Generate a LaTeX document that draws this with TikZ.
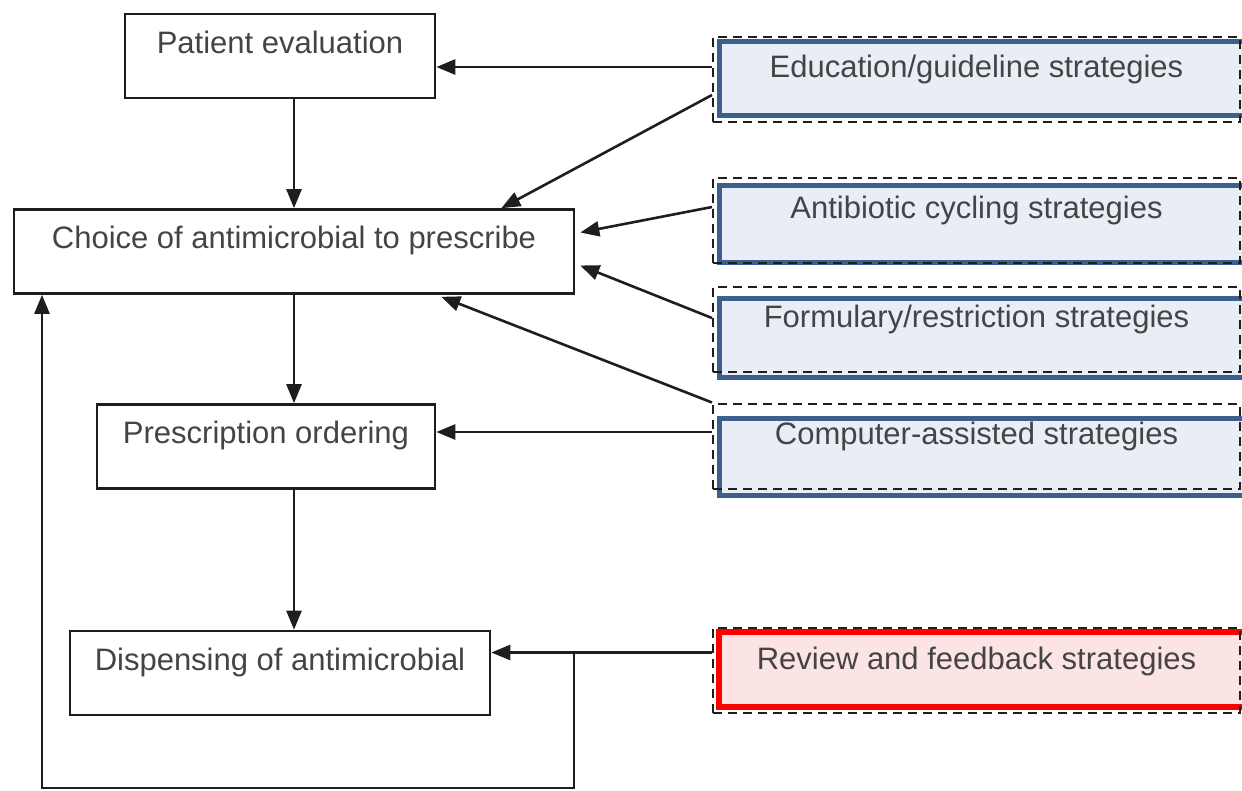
\documentclass[tikz,border=0pt]{standalone}
\usepackage{fontspec}
\setmainfont{Liberation Sans}
\usepackage{tikz}
\usetikzlibrary{arrows.meta}
\usepackage{xcolor}
\definecolor{txtgris}{RGB}{68,68,68}
\definecolor{bordnoir}{RGB}{30,30,30}
\definecolor{bleu}{RGB}{60,95,140}
\definecolor{fondbleu}{RGB}{233,238,246}
\definecolor{fondrose}{RGB}{252,228,228}

\begin{document}
\begin{tikzpicture}[x=1pt,y=-1pt,
    etape/.style={draw=bordnoir,line width=2.6pt,inner sep=0pt,text height=39pt,text depth=45pt,text=txtgris,font=\fontsize{31}{37}\selectfont},
    strat/.style={draw=bordnoir,dash pattern=on 9pt off 6pt,line width=2pt,inner sep=0pt,minimum width=527pt,text height=41pt,text depth=44pt,text=txtgris,font=\fontsize{31}{37}\selectfont},
    fl/.style={-{Triangle[length=19pt,width=15pt]},line width=2.6pt,draw=bordnoir}]
    \clip (0,0) rectangle (1242,790);
    % fonds des stratégies
    \foreach \h/\b in {41/115,185/262,298/377,418/495}
        \draw[bleu,line width=5pt,fill=fondbleu] (719,\h) rectangle (1252,\b);
    \draw[red,line width=6pt,fill=fondrose] (719,632) rectangle (1252,707);
    % étapes
    \node[etape,minimum width=310pt] (pat) at (280,56) {Patient evaluation};
    \node[etape,minimum width=560pt] (choix) at (294,251.5) {Choice of antimicrobial to prescribe};
    \node[etape,minimum width=338pt] (presc) at (266,446.5) {Prescription ordering};
    \node[etape,minimum width=420pt] (disp) at (280,673) {Dispensing of antimicrobial};
    % stratégies
    \node[strat] (edu) at (976.5,79) {Education/guideline strategies};
    \node[strat] (cycl) at (976.5,220) {Antibiotic cycling strategies};
    \node[strat] (form) at (976.5,329) {Formulary/restriction strategies};
    \node[strat] (info) at (976.5,446) {Computer-assisted strategies};
    \node[strat] (revue) at (976.5,670.5) {Review and feedback strategies};
    % flèches
    \draw[fl] (pat.south -| choix.north) -- (choix.north);
    \draw[fl] (choix.south) -- (choix.south |- presc.north);
    \draw[fl] (choix.south |- presc.south) -- (choix.south |- disp.north);
    \draw[fl] ([yshift=12pt]edu.west) -- ([yshift=12pt]edu.west -| pat.east);
    \draw[fl] ([yshift=-16pt]edu.west) -- ([xshift=-74pt]choix.north east);
    \draw[fl] ([yshift=13pt]cycl.west) -- ([xshift=5pt,yshift=19pt]choix.east);
    \draw[fl] ([yshift=11pt]form.west) -- ([xshift=5pt,yshift=-14pt]choix.east);
    \draw[fl] (info.north west) -- ([xshift=-134pt,yshift=-2pt]choix.south east);
    \draw[fl] ([yshift=14pt]info.west) -- ([yshift=14pt]info.west -| presc.east);
    \draw[fl] ([yshift=18pt]revue.west) -- ([yshift=18pt]revue.west -| disp.east);
    % boucle de retour
    \coordinate (bd) at (574,788);
    \coordinate (bg) at (42,788);
    \draw[fl] ([yshift=18pt]revue.west -| bd) -- (bd) -- (bg) -- (bg |- choix.south);
\end{tikzpicture}
\end{document}
